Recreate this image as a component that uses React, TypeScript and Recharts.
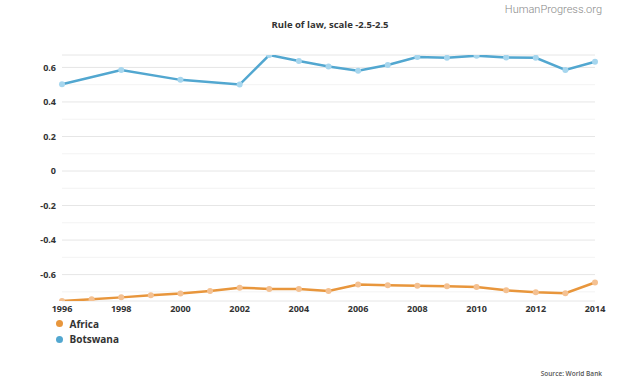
import React from 'react';
import { LineChart, Line, XAxis, YAxis, CartesianGrid, ReferenceLine } from 'recharts';

const years = [1996, 1997, 1998, 1999, 2000, 2001, 2002, 2003, 2004, 2005, 2006, 2007, 2008, 2009, 2010, 2011, 2012, 2013, 2014];
const africa = [-0.753, -0.743, -0.732, -0.72, -0.71, -0.695, -0.676, -0.683, -0.683, -0.695, -0.658, -0.662, -0.664, -0.668, -0.672, -0.691, -0.703, -0.708, -0.646];
const botswana: (number | null)[] = [0.503, null, 0.585, null, 0.528, null, 0.501, 0.672, 0.637, 0.606, 0.581, 0.614, 0.66, 0.656, 0.668, 0.658, 0.656, 0.585, 0.633];
const xTicks = [1996, 1998, 2000, 2002, 2004, 2006, 2008, 2010, 2012, 2014];
const yMajor = [-0.6, -0.4, -0.2, 0, 0.2, 0.4, 0.6];
const yMinor = [-0.7, -0.5, -0.3, -0.1, 0.1, 0.3, 0.5];

const series = [
  { key: 'africa', name: 'Africa', color: '#e8963c', dot: '#f4c192' },
  { key: 'botswana', name: 'Botswana', color: '#52a7d0', dot: '#a6d6ee' },
];

const data = years.map((y, i) => ({ year: y, africa: africa[i], botswana: botswana[i] }));

const font = '"Open Sans", "DejaVu Sans", sans-serif';

export default function App() {
  return (
    <div style={{ position: 'relative', width: 624, height: 386, background: '#fff', overflow: 'hidden' }}>
      <style>{'body{margin:0}'}</style>
      <div style={{ position: 'absolute', right: 22, top: 3, fontFamily: 'Roboto, sans-serif', fontWeight: 300, fontSize: 11, color: '#888', lineHeight: '14px' }}>
        HumanProgress.org
      </div>
      <div style={{ position: 'absolute', left: 230, width: 200, top: 18, textAlign: 'center', fontFamily: font, fontWeight: 700, fontSize: 9.5, color: '#333', lineHeight: '14px' }}>
        Rule of law, scale -2.5-2.5
      </div>
      <LineChart width={624} height={386} data={data} margin={{ top: 55, right: 29, bottom: 65, left: 0 }}>
        <CartesianGrid vertical={false} stroke="#e6e6e6" />
        {yMinor.map((v) => (
          <ReferenceLine key={v} y={v} stroke="#f3f3f3" strokeWidth={1} />
        ))}
        <XAxis
          dataKey="year"
          type="number"
          domain={[1996, 2014]}
          ticks={xTicks}
          axisLine={false}
          tickLine={false}
          tickSize={3}
          tickMargin={2}
          height={20}
          tick={{ fontFamily: font, fontSize: 9, fontWeight: 700, fill: '#333' }}
          interval={0}
        />
        <YAxis
          type="number"
          domain={[-0.753, 0.672]}
          ticks={yMajor}
          axisLine={false}
          tickLine={false}
          tickSize={4}
          tickMargin={2}
          width={62}
          allowDataOverflow
          tickFormatter={(v: number) => (Math.abs(v) < 1e-9 ? '0' : String(Number(v.toFixed(1))))}
          tick={{ fontFamily: font, fontSize: 9, fontWeight: 700, fill: '#333' }}
        />
        {series.map((s) => (
          <Line
            key={s.key}
            type="linear"
            dataKey={s.key}
            name={s.name}
            stroke={s.color}
            strokeWidth={2.5}
            connectNulls
            dot={{ r: 3, fill: s.dot, stroke: 'none' }}
            activeDot={false}
            isAnimationActive={false}
          />
        ))}
      </LineChart>
      <div style={{ position: 'absolute', left: 55.5, top: 316, fontFamily: font }}>
        {series.map((s) => (
          <div key={s.key} style={{ display: 'flex', alignItems: 'center', height: 15.5 }}>
            <span style={{ display: 'inline-block', width: 7, height: 7, borderRadius: '50%', background: s.color, marginRight: 7 }} />
            <span style={{ fontSize: 10, fontWeight: 700, color: '#333' }}>{s.name}</span>
          </div>
        ))}
      </div>
      <div style={{ position: 'absolute', right: 22, top: 369, fontFamily: font, fontWeight: 600, fontSize: 6.5, color: '#555', lineHeight: '10px' }}>
        Source: World Bank
      </div>
    </div>
  );
}
